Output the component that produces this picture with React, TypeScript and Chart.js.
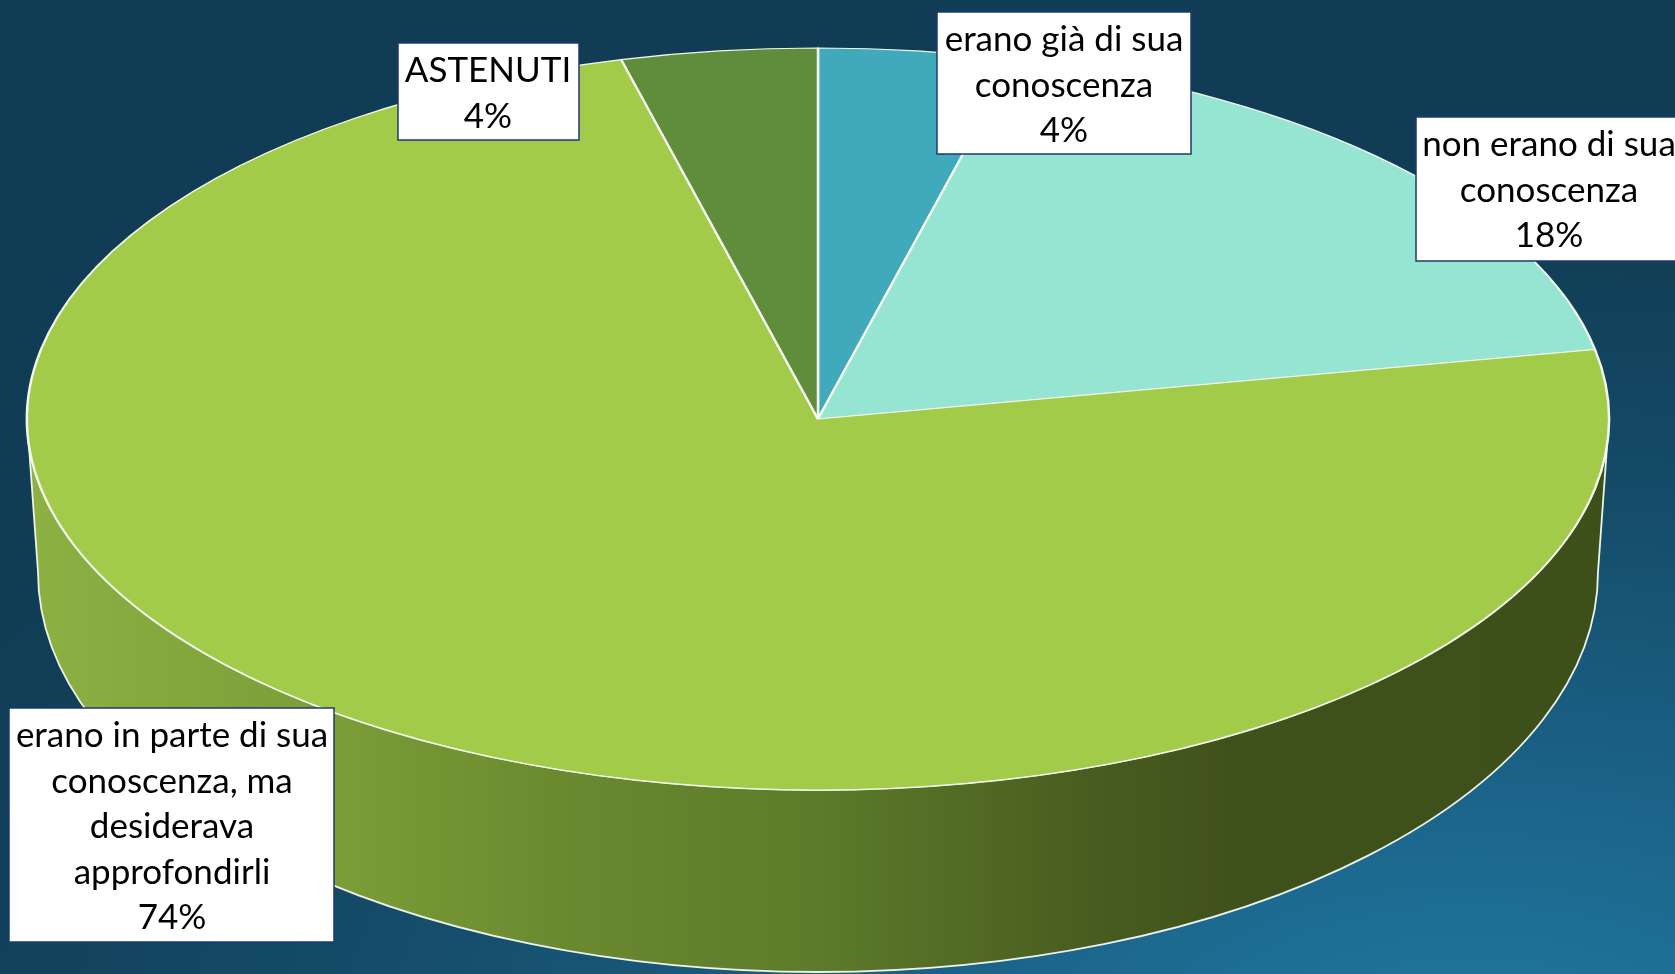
import React, { useEffect, useRef } from "react";
import { Chart, registerables } from "chart.js";

Chart.register(...registerables);

// ---- data ----
const categories = [
  "erano già di sua conoscenza",
  "non erano di sua conoscenza",
  "erano in parte di sua conoscenza, ma desiderava approfondirli",
  "ASTENUTI",
];
const values = [4, 18, 74, 4];
const labelLines = [
  ["erano già di sua", "conoscenza"],
  ["non erano di sua", "conoscenza"],
  ["erano in parte di sua", "conoscenza, ma", "desiderava", "approfondirli"],
  ["ASTENUTI"],
];
const sliceColors = ["#41A9BC", "#96E5D3", "#A2CB4A", "#5F8D3C"];

// ---- layout ----
const W = 1675;
const H = 974;
const TOP = { cx: 818, cy: 419, rx: 791, ry: 371 };
const BOT = { cx: 818, cy: 572, rx: 780, ry: 400 };
const labelBoxes = [
  { x: 937, y: 12, w: 254, h: 142 },
  { x: 1416, y: 117, w: 272, h: 144 },
  { x: 9, y: 708, w: 325, h: 234 },
  { x: 398, y: 43, w: 181, h: 97 },
];
const labelCenters = [1064, 1549, 172, 488];
const FONT = "35px Lato, 'Open Sans', sans-serif";
const LINE_H = 45.5;

const pie3d = {
  id: "pie3d",
  beforeDatasetsDraw(chart: any) {
    const ctx: CanvasRenderingContext2D = chart.ctx;
    const arc = chart.getDatasetMeta(0).data[0];
    if (!arc) return;
    const { x, y, outerRadius } = arc.getProps(["x", "y", "outerRadius"], true);

    // side wall
    ctx.save();
    const g = ctx.createLinearGradient(TOP.cx - TOP.rx, 0, TOP.cx + TOP.rx, 0);
    g.addColorStop(0, "#8DB143");
    g.addColorStop(0.2, "#7B9C37");
    g.addColorStop(0.35, "#69882F");
    g.addColorStop(0.5, "#5D7B2A");
    g.addColorStop(0.67, "#495D20");
    g.addColorStop(0.76, "#40521B");
    g.addColorStop(1, "#3E501A");
    ctx.beginPath();
    ctx.ellipse(TOP.cx, TOP.cy, TOP.rx, TOP.ry, 0, 0, Math.PI);
    ctx.lineTo(BOT.cx - BOT.rx, BOT.cy);
    ctx.ellipse(BOT.cx, BOT.cy, BOT.rx, BOT.ry, 0, Math.PI, 0, true);
    ctx.closePath();
    ctx.fillStyle = g;
    ctx.fill();
    ctx.strokeStyle = "#EEF3E6";
    ctx.lineWidth = 1.8;
    ctx.stroke();
    ctx.restore();

    // squash the top face
    ctx.save();
    ctx.translate(TOP.cx, TOP.cy);
    ctx.scale(TOP.rx / outerRadius, TOP.ry / outerRadius);
    ctx.translate(-x, -y);
  },
  afterDatasetsDraw(chart: any) {
    chart.ctx.restore();
  },
  afterDraw(chart: any) {
    const ctx: CanvasRenderingContext2D = chart.ctx;
    const total = values.reduce((a, b) => a + b, 0);
    ctx.save();
    ctx.font = FONT;
    ctx.textAlign = "center";
    ctx.textBaseline = "alphabetic";
    labelBoxes.forEach((b, i) => {
      ctx.fillStyle = "#FFFFFF";
      ctx.fillRect(b.x, b.y, b.w, b.h);
      ctx.strokeStyle = "#1E3A6E";
      ctx.lineWidth = 1.5;
      ctx.strokeRect(b.x, b.y, b.w, b.h);
      const lines = [...labelLines[i], `${Math.round((values[i] / total) * 100)}%`];
      ctx.fillStyle = "#000000";
      lines.forEach((ln, k) => {
        ctx.fillText(ln, labelCenters[i], b.y + 39 + k * LINE_H);
      });
    });
    ctx.restore();
  },
};

export default function App() {
  const ref = useRef<HTMLCanvasElement>(null);
  useEffect(() => {
    if (!ref.current) return;
    const chart = new Chart(ref.current, {
      type: "pie",
      data: {
        labels: categories,
        datasets: [
          {
            data: values,
            backgroundColor: sliceColors,
            borderColor: "#F4F7EE",
            borderWidth: 2.5,
            radius: 791,
          } as any,
        ],
      },
      options: {
        responsive: false,
        animation: false,
        events: [],
        layout: { padding: 0 },
        plugins: {
          legend: { display: false },
          tooltip: { enabled: false },
        },
      },
      plugins: [pie3d],
    });
    return () => chart.destroy();
  }, []);
  return (
    <div
      style={{
        position: "fixed",
        left: 0,
        top: 0,
        width: W,
        height: H,
        overflow: "hidden",
        background:
          "radial-gradient(ellipse 110% 95% at 88% 108%, #2179A2 0%, #1B6287 30%, #154C69 60%, #113F58 85%, #103C55 100%)",
      }}
    >
      <canvas ref={ref} width={W} height={H} style={{ display: "block" }} />
    </div>
  );
}
